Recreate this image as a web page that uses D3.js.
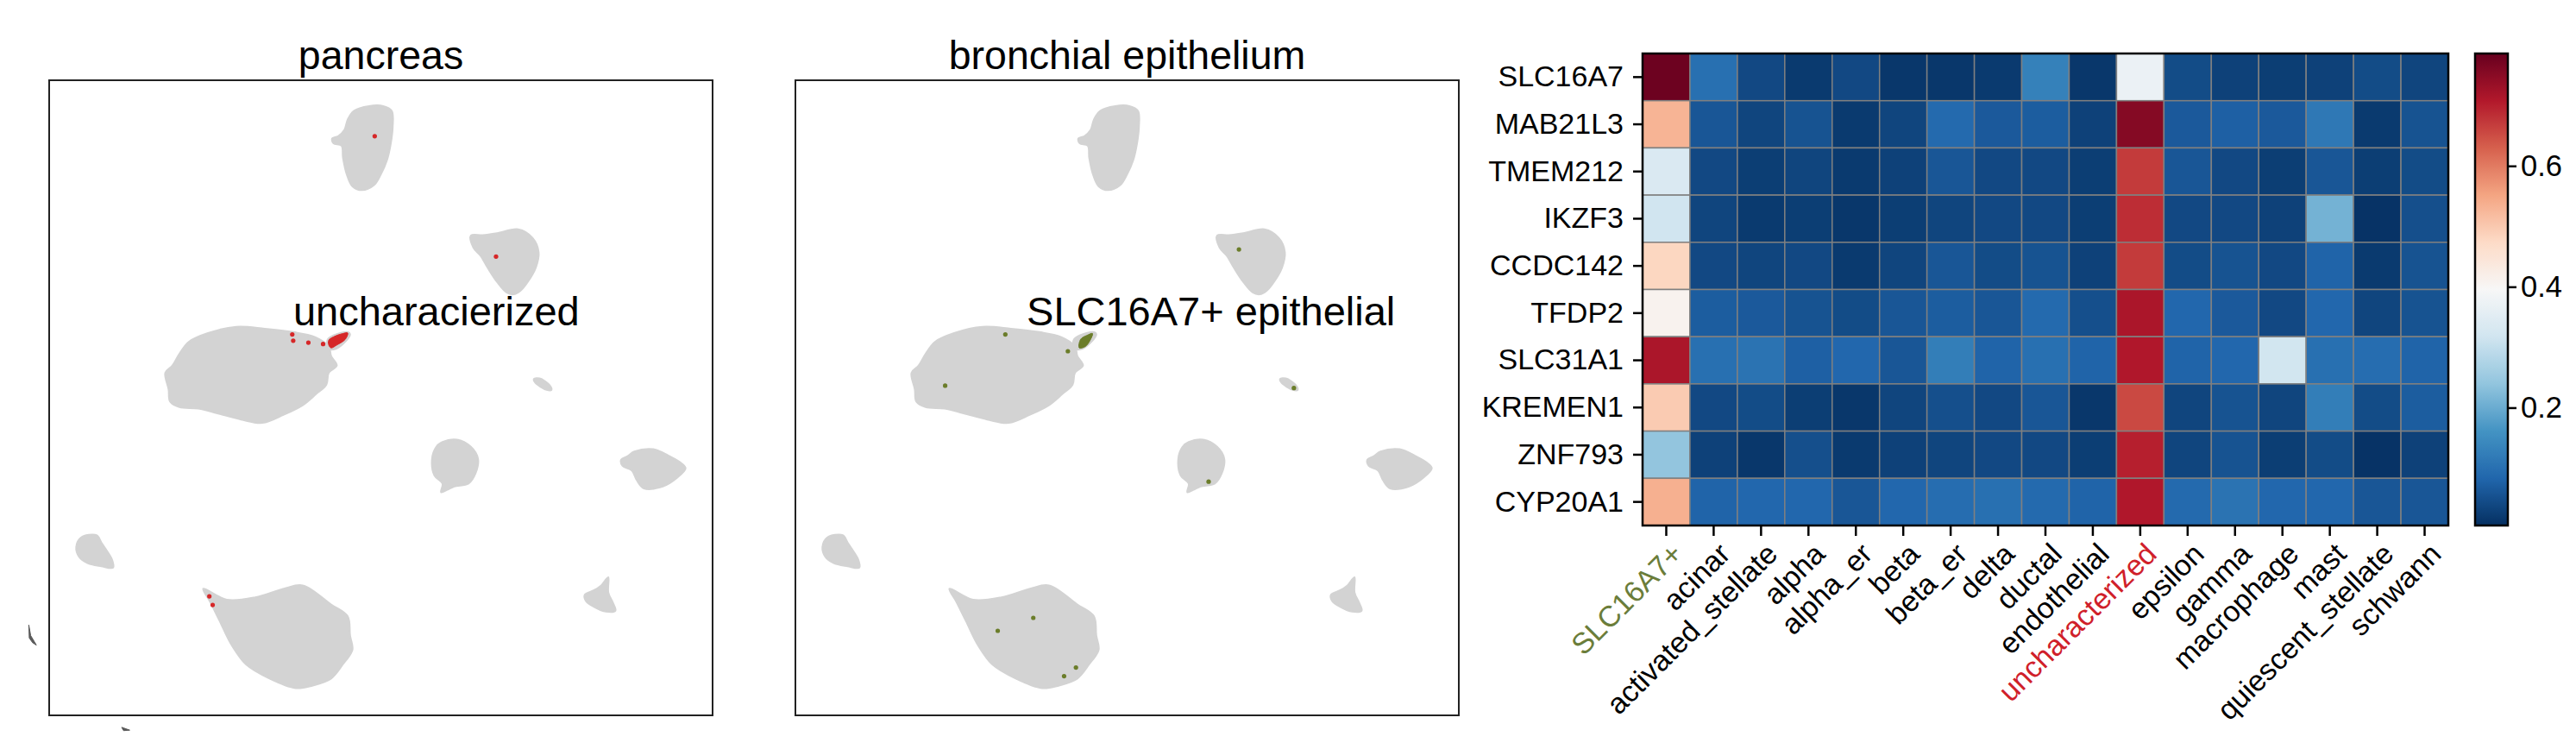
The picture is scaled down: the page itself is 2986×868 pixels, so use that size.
<!DOCTYPE html>
<html><head><meta charset="utf-8">
<script src="https://cdn.jsdelivr.net/npm/d3@7"></script>
<style>
body{margin:0;background:#fff;}
svg{display:block;font-family:"Liberation Sans",Arial,Helvetica,sans-serif;}
</style></head><body>
<svg id="chart" width="2986" height="868"></svg>
<script>
// ---------------- DATA ----------------
const genes = ["SLC16A7","MAB21L3","TMEM212","IKZF3","CCDC142","TFDP2","SLC31A1","KREMEN1","ZNF793","CYP20A1"];
const cellTypes = ["SLC16A7+","acinar","activated_stellate","alpha","alpha_er","beta","beta_er","delta","ductal","endothelial","uncharacterized","epsilon","gamma","macrophage","mast","quiescent_stellate","schwann"];
// rows follow genes, columns follow cellTypes
const scores = [
  [0.780,0.100,0.040,0.020,0.040,0.015,0.015,0.020,0.130,0.015,0.370,0.045,0.030,0.025,0.030,0.045,0.035],
  [0.530,0.060,0.035,0.055,0.020,0.035,0.090,0.065,0.070,0.030,0.755,0.065,0.075,0.065,0.115,0.020,0.055],
  [0.335,0.040,0.025,0.035,0.020,0.030,0.060,0.040,0.040,0.025,0.670,0.060,0.040,0.025,0.060,0.025,0.045],
  [0.318,0.035,0.020,0.025,0.015,0.025,0.035,0.040,0.040,0.025,0.685,0.040,0.040,0.030,0.210,0.010,0.050],
  [0.480,0.040,0.035,0.040,0.020,0.035,0.060,0.045,0.055,0.030,0.670,0.045,0.055,0.040,0.080,0.020,0.055],
  [0.410,0.070,0.065,0.055,0.045,0.060,0.070,0.060,0.090,0.050,0.715,0.085,0.065,0.040,0.085,0.035,0.055],
  [0.715,0.100,0.105,0.075,0.085,0.060,0.125,0.080,0.100,0.080,0.710,0.080,0.085,0.320,0.100,0.095,0.080],
  [0.497,0.040,0.045,0.025,0.015,0.035,0.050,0.040,0.060,0.015,0.655,0.035,0.055,0.035,0.125,0.045,0.070],
  [0.240,0.030,0.015,0.050,0.020,0.030,0.035,0.040,0.040,0.025,0.700,0.035,0.055,0.025,0.045,0.010,0.030],
  [0.536,0.080,0.085,0.085,0.060,0.085,0.095,0.100,0.090,0.080,0.710,0.090,0.105,0.085,0.085,0.060,0.060]
];
const colorRange = [0.005, 0.786];
const colorbarTicks = [0.2, 0.4, 0.6];
const rdbuR = ["#053061","#2166ac","#4393c3","#92c5de","#d1e5f0","#f7f7f7","#fddbc7","#f4a582","#d6604d","#b2182b","#67001f"];

// UMAP embedding: outlines of the grey cell clusters [UMAP1, UMAP2]
const umapDomainX = [1.05, 15.05];
const umapDomainY = [1.03, 14.32];
const clusterTop = [[7.80,13.78],[8.10,13.78],[8.28,13.68],[8.30,13.35],[8.26,13.00],[8.18,12.65],[8.05,12.35],[7.90,12.12],[7.65,12.02],[7.45,12.10],[7.33,12.35],[7.25,12.70],[7.22,12.95],[7.05,13.00],[7.02,13.10],[7.15,13.15],[7.28,13.28],[7.35,13.50],[7.48,13.68]];
const clusterUpperRight = [[9.95,11.07],[10.20,11.08],[10.50,11.12],[10.95,11.20],[11.25,11.02],[11.38,10.72],[11.32,10.40],[11.15,10.10],[11.00,9.92],[10.85,9.84],[10.70,9.88],[10.50,10.10],[10.30,10.40],[10.15,10.65],[10.00,10.82]];
const clusterLeft = [[4.00,8.85],[4.40,9.03],[5.00,9.16],[5.60,9.12],[6.20,9.05],[6.65,8.95],[6.95,8.75],[7.00,8.55],[7.12,8.35],[6.95,8.20],[6.90,7.95],[6.68,7.75],[6.40,7.52],[6.00,7.32],[5.55,7.15],[5.10,7.22],[4.60,7.35],[4.20,7.45],[3.80,7.48],[3.60,7.60],[3.57,7.85],[3.50,8.20],[3.65,8.35],[3.80,8.60]];
const clusterSliver = [[11.28,8.07],[11.40,8.08],[11.60,7.95],[11.65,7.84],[11.55,7.84],[11.30,8.00]];
const clusterMiddle = [[9.35,6.75],[9.65,6.80],[9.95,6.65],[10.10,6.40],[10.05,6.10],[9.90,5.88],[9.60,5.82],[9.45,5.75],[9.32,5.70],[9.35,5.88],[9.18,6.05],[9.13,6.40],[9.22,6.65]];
const clusterRight = [[13.40,6.55],[13.80,6.60],[14.15,6.45],[14.40,6.30],[14.48,6.20],[14.30,6.00],[14.00,5.82],[13.60,5.78],[13.45,5.95],[13.35,6.15],[13.15,6.25],[13.12,6.38],[13.25,6.45]];
const clusterSmallLeft = [[1.72,4.75],[2.05,4.80],[2.15,4.65],[2.25,4.50],[2.38,4.28],[2.40,4.12],[2.15,4.15],[1.85,4.22],[1.68,4.35],[1.62,4.55]];
const clusterBottom = [[4.30,3.68],[4.80,3.45],[5.40,3.50],[6.00,3.68],[6.40,3.75],[7.00,3.35],[7.35,3.10],[7.40,2.70],[7.45,2.40],[7.25,2.10],[7.00,1.80],[6.60,1.65],[6.25,1.60],[5.70,1.80],[5.20,2.10],[4.90,2.50],[4.65,3.00],[4.45,3.40]];
const clusterSmallRight = [[12.78,3.85],[12.85,3.92],[12.85,3.60],[12.95,3.38],[13.00,3.22],[12.80,3.20],[12.55,3.30],[12.38,3.42],[12.35,3.55],[12.55,3.65],[12.70,3.75]];
const clusterIslet = [[6.92,8.88],[7.05,8.98],[7.35,9.05],[7.40,9.00],[7.30,8.85],[7.10,8.70],[6.95,8.70]];
// stray dark fragments outside the first panel
const strayFragments = [
  [[0.62,2.92],[0.66,2.70],[0.78,2.50],[0.70,2.55],[0.63,2.65]],
  [[2.58,0.78],[2.75,0.72],[2.62,0.71]]
];

// highlighted cells
const pancreasCells = [[7.92,13.15],[10.48,10.63],[6.18,9.00],[6.20,8.87],[6.52,8.83],[6.83,8.80],[4.43,3.52],[4.50,3.34]];
const pancreasPatch = [[6.95,8.88],[7.05,8.95],[7.25,9.02],[7.35,9.03],[7.30,8.90],[7.12,8.78],[7.00,8.72],[6.95,8.78]];
const bronchialCells = [[10.41,10.78],[5.48,9.00],[6.80,8.65],[4.21,7.93],[11.57,7.88],[9.77,5.92],[6.07,3.07],[5.32,2.80],[6.72,1.85],[6.97,2.03]];
const bronchialPatch = [[7.04,8.72],[7.07,8.90],[7.20,8.98],[7.32,9.02],[7.27,8.88],[7.17,8.75]];

const panels = [
  {title:"pancreas", label:"uncharacierized", labelAt:[6.20,9.20], cells:pancreasCells, patch:pancreasPatch, color:"#d62728", strays:strayFragments},
  {title:"bronchial epithelium", label:"SLC16A7+ epithelial", labelAt:[5.93,9.20], cells:bronchialCells, patch:bronchialPatch, color:"#6b7d2a", strays:[]}
];
const labelColors = {"SLC16A7+":"#6b7d3a","uncharacterized":"#d0202a"};

// ---------------- DRAW ----------------
const svg = d3.select("#chart");
const clusters = [clusterTop,clusterUpperRight,clusterLeft,clusterSliver,clusterMiddle,clusterRight,clusterSmallLeft,clusterBottom,clusterSmallRight,clusterIslet];
const panelBoxes = [[57,93,826,829],[922,93,1691,829]];

panels.forEach((p,i)=>{
  const [x0,y0,x1,y1] = panelBoxes[i];
  const xs = d3.scaleLinear().domain(umapDomainX).range([x0,x1]);
  const ys = d3.scaleLinear().domain(umapDomainY).range([y1,y0]);
  const g = svg.append("g");
  const line = d3.line().x(d=>xs(d[0])).y(d=>ys(d[1])).curve(d3.curveCatmullRomClosed.alpha(0.5));
  const poly = d3.line().x(d=>xs(d[0])).y(d=>ys(d[1])).curve(d3.curveLinearClosed);
  g.selectAll("path.cl").data(clusters).join("path").attr("class","cl")
    .attr("d",line).attr("fill","#d3d3d3").attr("stroke","#d3d3d3").attr("stroke-width",2);
  g.selectAll("path.st").data(p.strays).join("path").attr("class","st")
    .attr("d",poly).attr("fill","#5a5a5a").attr("stroke","#5a5a5a").attr("stroke-width",1);
  g.append("path").attr("d",line(p.patch)).attr("fill",p.color).attr("stroke",p.color).attr("stroke-width",1);
  g.selectAll("circle").data(p.cells).join("circle")
    .attr("cx",d=>xs(d[0])).attr("cy",d=>ys(d[1])).attr("r",2.6).attr("fill",p.color);
  g.append("rect").attr("x",x0).attr("y",y0).attr("width",x1-x0).attr("height",y1-y0)
    .attr("fill","none").attr("stroke","#222").attr("stroke-width",2);
  g.append("text").attr("x",(x0+x1)/2).attr("y",80).attr("text-anchor","middle")
    .attr("font-size",46.5).attr("fill","#000").text(p.title);
  g.append("text").attr("x",xs(p.labelAt[0])).attr("y",ys(p.labelAt[1]))
    .attr("font-size",47).attr("fill","#000").text(p.label);
});

// heatmap
const hx0=1904, hx1=2838, hy0=62, hy1=609;
const xb = d3.scaleBand().domain(cellTypes).range([hx0,hx1]);
const yb = d3.scaleBand().domain(genes).range([hy0,hy1]);
const cdom = rdbuR.map((_,i)=>colorRange[0]+i*(colorRange[1]-colorRange[0])/(rdbuR.length-1));
const color = d3.scaleLinear().domain(cdom).range(rdbuR).interpolate(d3.interpolateRgb).clamp(true);

const cells = [];
genes.forEach((gname,r)=>cellTypes.forEach((c,k)=>cells.push({g:gname,c,v:scores[r][k]})));
const hm = svg.append("g");
hm.selectAll("rect.cell").data(cells).join("rect").attr("class","cell")
  .attr("x",d=>xb(d.c)).attr("y",d=>yb(d.g)).attr("width",xb.bandwidth()).attr("height",yb.bandwidth())
  .attr("fill",d=>color(d.v)).attr("stroke","#808080").attr("stroke-width",1.5);
hm.append("rect").attr("x",hx0).attr("y",hy0).attr("width",hx1-hx0).attr("height",hy1-hy0)
  .attr("fill","none").attr("stroke","#000").attr("stroke-width",2.5);

const yAxis = d3.axisLeft(yb).tickSize(10).tickPadding(11);
const ya = svg.append("g").attr("transform",`translate(${hx0-1},0)`).call(yAxis);
ya.select(".domain").remove();
ya.selectAll("line").attr("stroke","#000").attr("stroke-width",2.5);
ya.selectAll("text").attr("font-size",34).attr("fill","#000").attr("font-family","Liberation Sans, Arial, sans-serif");

const xAxis = d3.axisBottom(xb).tickSize(11).tickFormat("");
const xa = svg.append("g").attr("transform",`translate(0,${hy1+1})`).call(xAxis);
xa.select(".domain").remove();
xa.selectAll("line").attr("stroke","#000").attr("stroke-width",2.5);
const fsX = 34;
svg.append("g").selectAll("text").data(cellTypes).join("text")
  .attr("transform",d=>`translate(${xb(d)+xb.bandwidth()/2 + 3},${hy1+17}) rotate(-45)`)
  .attr("text-anchor","end").attr("dy","0.75em").attr("font-size",fsX)
  .attr("fill",d=>labelColors[d]||"#000").text(d=>d);

// colorbar
const cbx0=2869, cbx1=2907;
const cby = d3.scaleLinear().domain(colorRange).range([hy1,hy0]);
const defs = svg.append("defs");
const grad = defs.append("linearGradient").attr("id","cbgrad").attr("x1",0).attr("y1",1).attr("x2",0).attr("y2",0);
grad.selectAll("stop").data(d3.range(0,101)).join("stop")
  .attr("offset",d=>d/100).attr("stop-color",d=>color(colorRange[0]+d/100*(colorRange[1]-colorRange[0])));
svg.append("rect").attr("x",cbx0).attr("y",hy0).attr("width",cbx1-cbx0).attr("height",hy1-hy0)
  .attr("fill","url(#cbgrad)").attr("stroke","#000").attr("stroke-width",2.5);
const cba = svg.append("g").attr("transform",`translate(${cbx1},0)`)
  .call(d3.axisRight(cby).tickValues(colorbarTicks).tickSize(10).tickPadding(5).tickFormat(d3.format(".1f")));
cba.select(".domain").remove();
cba.selectAll("line").attr("stroke","#000").attr("stroke-width",2.5);
cba.selectAll("text").attr("font-size",34.5).attr("fill","#000").attr("font-family","Liberation Sans, Arial, sans-serif");
</script>
</body></html>
